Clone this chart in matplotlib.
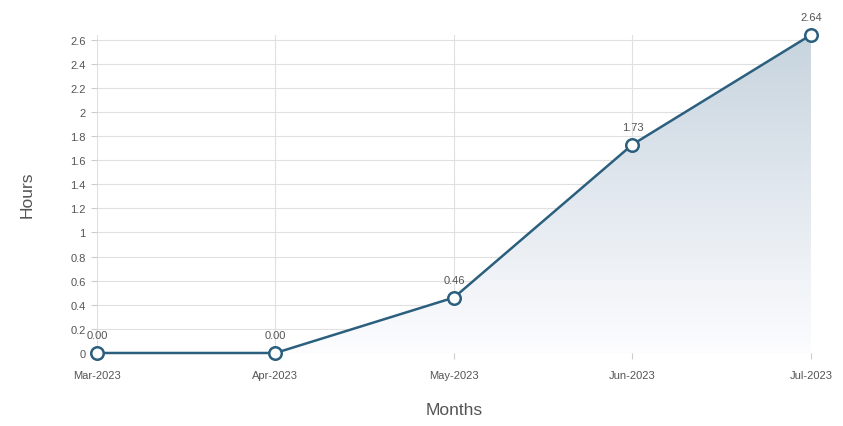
import numpy as np
import matplotlib
matplotlib.use("Agg")
import matplotlib.pyplot as plt
from matplotlib.patches import Polygon

months = ["Mar-2023", "Apr-2023", "May-2023", "Jun-2023", "Jul-2023"]
hours = [0.00, 0.00, 0.46, 1.73, 2.64]
y_ticks = [0, 0.2, 0.4, 0.6, 0.8, 1, 1.2, 1.4, 1.6, 1.8, 2, 2.2, 2.4, 2.6]
y_tick_labels = ["0", "0.2", "0.4", "0.6", "0.8", "1", "1.2", "1.4", "1.6", "1.8", "2", "2.2", "2.4", "2.6"]

plt.rcParams["font.family"] = ["Liberation Sans", "DejaVu Sans"]

line_color = "#2b5f7e"
text_color = "#555555"

fig = plt.figure(figsize=(8.43, 4.27), dpi=100)
ax = fig.add_axes([0.115, 0.171, 0.847, 0.745])

x = np.arange(len(months))
ymax = max(hours)
ax.set_xlim(x[0], x[-1])
ax.set_ylim(0, ymax)

# gradient area under the line
verts = [(x[0], 0)] + list(zip(x, hours)) + [(x[-1], 0)]
poly = Polygon(verts, closed=True, facecolor="none", edgecolor="none")
ax.add_patch(poly)
grad = np.linspace(0, 1, 256).reshape(-1, 1)
top = np.array([0.78, 0.83, 0.87])
bottom = np.array([0.99, 0.99, 1.0])
img = bottom + (top - bottom) * grad
img = img.reshape(256, 1, 3)
im = ax.imshow(img, extent=[x[0], x[-1], 0, ymax], origin="lower",
               aspect="auto", zorder=1)
im.set_clip_path(poly)

ax.plot(x, hours, color=line_color, lw=1.8, zorder=3, marker="o",
        markersize=9, markerfacecolor="white", markeredgecolor=line_color,
        markeredgewidth=1.8, clip_on=False)

for xi, yi in zip(x, hours):
    ax.annotate(f"{yi:.2f}", (xi, yi), xytext=(0, 9), textcoords="offset points",
                ha="center", va="bottom", fontsize=8, color=text_color,
                annotation_clip=False, zorder=4)

ax.set_xticks(x)
ax.set_xticklabels(months, fontsize=8, color=text_color)
ax.set_yticks(y_ticks)
ax.set_yticklabels(y_tick_labels, fontsize=8, color=text_color)
ax.tick_params(axis="both", length=4, color="#cccccc", pad=4)
ax.tick_params(axis="x", pad=8)

ax.grid(True, color="#e0e0e0", lw=0.8, zorder=0)
ax.set_axisbelow(True)
for s in ax.spines.values():
    s.set_visible(False)

ax.set_xlabel("Months", fontsize=12.5, color=text_color, labelpad=16)
ax.set_ylabel("Hours", fontsize=12.5, color=text_color, labelpad=26)

fig.savefig("out.png", dpi=100, facecolor="white")
